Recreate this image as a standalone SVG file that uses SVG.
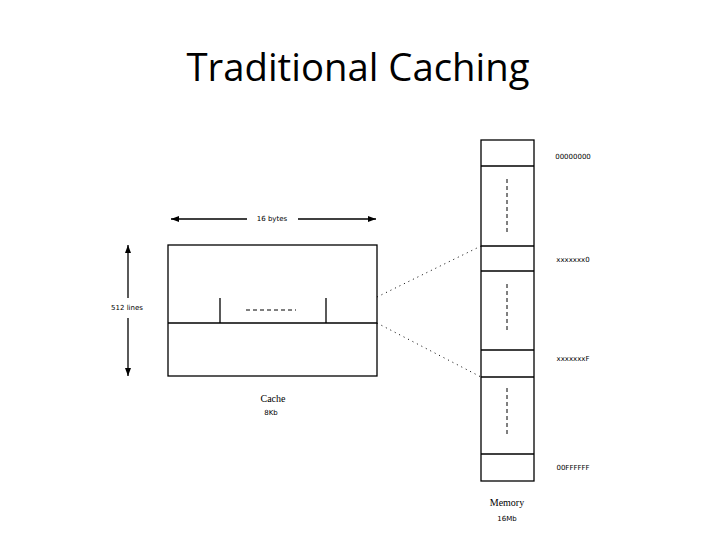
<svg xmlns="http://www.w3.org/2000/svg" width="720" height="540" viewBox="0 0 720 540">
<defs>
<style>
.ln{stroke:#000;stroke-width:1.3;fill:none}
.dash{stroke:#000;stroke-width:1;stroke-dasharray:4,3;fill:none}
.dot{stroke:#000;stroke-width:1;stroke-dasharray:1,4;fill:none}
.sm{font-family:"DejaVu Sans",sans-serif;font-size:7px;fill:#000}
.lbl{font-family:"Liberation Serif",serif;font-size:10px;fill:#000}
</style>
<marker id="ah" markerWidth="8" markerHeight="6" refX="8" refY="3" orient="auto" markerUnits="userSpaceOnUse">
<path d="M0,0 L8,3 L0,6 z" fill="#000"/>
</marker>
</defs>
<rect width="720" height="540" fill="#fff"/>
<text x="358" y="81" text-anchor="middle" font-family="'Open Sans','Liberation Sans',sans-serif" font-size="38" textLength="343" lengthAdjust="spacingAndGlyphs" fill="#000">Traditional Caching</text>
<g id="cache">
<rect class="ln" x="168" y="245" width="209" height="131"/>
<line class="ln" x1="168" y1="323" x2="377" y2="323"/>
<line class="ln" x1="220" y1="298" x2="220" y2="323"/>
<line class="ln" x1="326" y1="298" x2="326" y2="323"/>
<line class="dash" x1="246" y1="310" x2="296" y2="310"/>
<text class="lbl" x="273" y="402" text-anchor="middle">Cache</text>
<text class="sm" x="271" y="415" text-anchor="middle">8Kb</text>
</g>
<g id="memory">
<rect class="ln" x="481" y="140" width="53" height="341"/>
<line class="ln" x1="481" y1="166" x2="534" y2="166"/>
<line class="ln" x1="481" y1="246" x2="534" y2="246"/>
<line class="ln" x1="481" y1="271" x2="534" y2="271"/>
<line class="ln" x1="481" y1="350" x2="534" y2="350"/>
<line class="ln" x1="481" y1="377" x2="534" y2="377"/>
<line class="ln" x1="481" y1="454" x2="534" y2="454"/>
<line class="dash" x1="507" y1="179" x2="507" y2="232"/>
<line class="dash" x1="507" y1="284" x2="507" y2="333"/>
<line class="dash" x1="507" y1="388" x2="507" y2="437"/>
<text class="lbl" x="507" y="506" text-anchor="middle">Memory</text>
<text class="sm" x="507" y="521" text-anchor="middle">16Mb</text>
</g>
<g id="addr-labels">
<text class="sm" x="573" y="159" text-anchor="middle">00000000</text>
<text class="sm" x="573" y="262" text-anchor="middle">xxxxxxx0</text>
<text class="sm" x="573" y="361" text-anchor="middle">xxxxxxxF</text>
<text class="sm" x="573" y="470" text-anchor="middle">00FFFFFF</text>
</g>
<g id="dimensions">
<line class="ln" x1="247" y1="219" x2="171" y2="219" marker-end="url(#ah)"/>
<line class="ln" x1="298" y1="219" x2="376" y2="219" marker-end="url(#ah)"/>
<text class="sm" x="272" y="221" text-anchor="middle">16 bytes</text>
<line class="ln" x1="128" y1="298" x2="128" y2="245" marker-end="url(#ah)"/>
<line class="ln" x1="128" y1="318" x2="128" y2="376" marker-end="url(#ah)"/>
<text class="sm" x="127" y="310" text-anchor="middle">512 lines</text>
</g>
<g id="connectors">
<line class="dot" x1="377" y1="297" x2="481" y2="246"/>
<line class="dot" x1="377" y1="323" x2="481" y2="377"/>
</g>
</svg>
